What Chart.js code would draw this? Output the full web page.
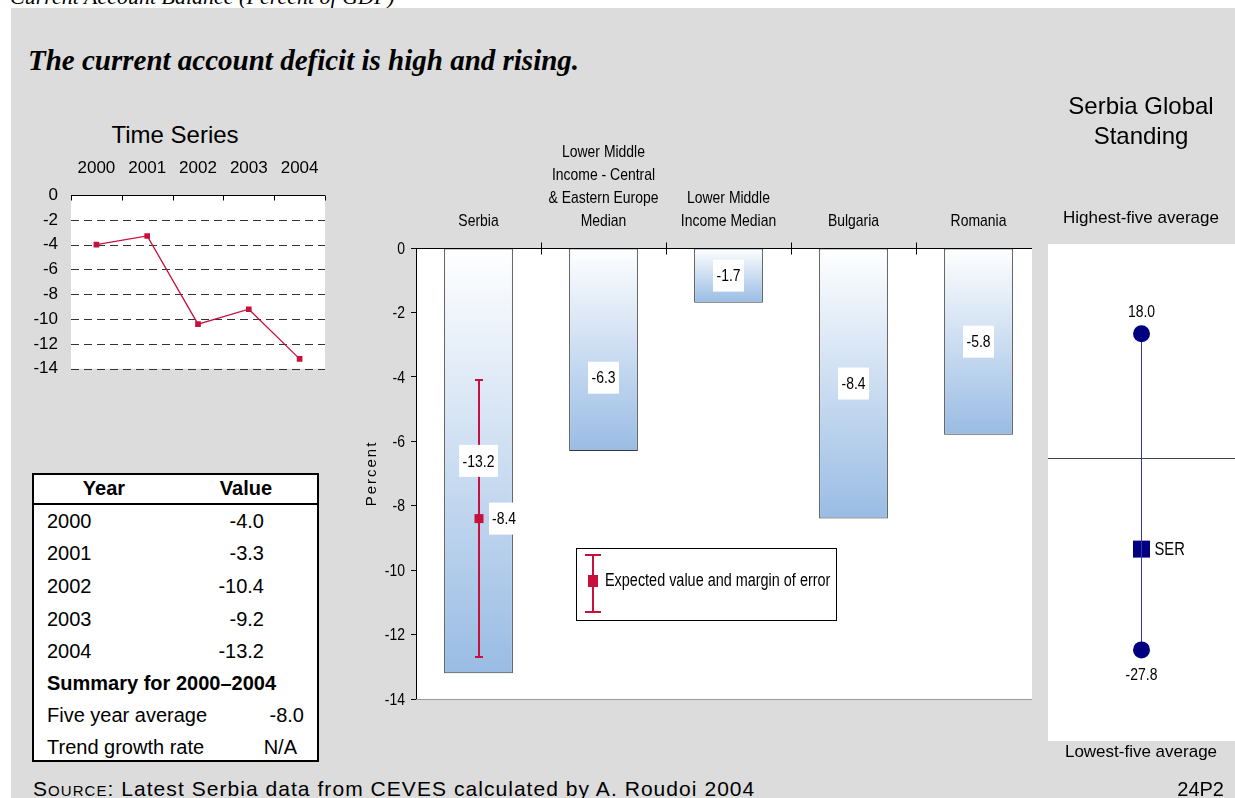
<!DOCTYPE html>
<html>
<head>
<meta charset="utf-8">
<title>Current Account Balance (Percent of GDP)</title>
<script src="https://cdn.jsdelivr.net/npm/chart.js@4.4.1/dist/chart.umd.min.js"></script>
<style>
  html, body { margin: 0; padding: 0; background: #fff; }
  body { width: 1235px; height: 798px; position: relative; overflow: hidden;
         font-family: "Liberation Sans", Arial, sans-serif; color: #000; }
  .abs { position: absolute; white-space: nowrap; }
  #pageTitle { left: 10px; top: -14px; font: italic 22px/22px "Liberation Serif", "Times New Roman", serif; }
  #panel { left: 11px; top: 8px; width: 1224px; height: 790px; background: #dcdcdc; }
  #headline { left: 28px; top: 46px; font: bold italic 29px/29px "Liberation Serif", "Times New Roman", serif; }
  #tsTitle { left: 75px; width: 200px; top: 123px; text-align: center; font-size: 24px; line-height: 24px; }
  #standTitle { left: 1046px; width: 190px; top: 91px; text-align: center; font-size: 24px; line-height: 30px; }
  .standNote { left: 1046px; width: 190px; text-align: center; font-size: 17px; line-height: 20px; }
  #dataTable { left: 32px; top: 473px; width: 283px; height: 285px; background: #fff; border: 2px solid #000; }
  #dataTable .hdrLine { position: absolute; left: 0; right: 0; top: 28px; height: 0; border-top: 2px solid #000; }
  #dataTable .cell { position: absolute; font-size: 20px; line-height: 30px; white-space: nowrap; }
  #source { left: 33px; top: 777px; font-size: 21px; line-height: 24px; letter-spacing: 1.05px; }
  #source .sc { font-variant: small-caps; }
  #pageId { right: 11px; top: 777px; font-size: 20px; line-height: 24px; }
  canvas { position: absolute; }
</style>
</head>
<body>
<div id="pageTitle" class="abs">Current Account Balance (Percent of GDP)</div>
<div id="panel" class="abs"></div>
<div id="headline" class="abs">The current account deficit is high and rising.</div>

<div id="tsTitle" class="abs">Time Series</div>
<canvas id="tsChart" width="340" height="242" style="left:0;top:150px"></canvas>

<div id="dataTable" class="abs"><div class="hdrLine"></div></div>

<canvas id="mainChart" width="720" height="590" style="left:340px;top:130px"></canvas>

<div id="standTitle" class="abs">Serbia Global<br>Standing</div>
<div class="abs standNote" style="top:208px">Highest-five average</div>
<canvas id="standChart" width="187" height="497" style="left:1048px;top:244px"></canvas>
<div class="abs standNote" style="top:742px">Lowest-five average</div>

<div id="source" class="abs"><span class="sc">Source</span>: Latest Serbia data from CEVES calculated by A. Roudoi 2004</div>
<div id="pageId" class="abs">24P2</div>

<script>
// ---- data ----
const years = ['2000', '2001', '2002', '2003', '2004'];
const balanceByYear = [-4.0, -3.3, -10.4, -9.2, -13.2];
const fiveYearAverage = -8.0;
const trendGrowthRate = 'N/A';

const comparisonLabels = [
  ['Serbia'],
  ['Lower Middle', 'Income - Central', '& Eastern Europe', 'Median'],
  ['Lower Middle', 'Income Median'],
  ['Bulgaria'],
  ['Romania']
];
const comparisonValues = [-13.2, -6.3, -1.7, -8.4, -5.8];

const serbiaExpected = -8.4;
const serbiaMarginLow = -12.7;
const serbiaMarginHigh = -4.1;

const highestFiveAverage = 18.0;
const lowestFiveAverage = -27.8;
const serbiaStanding = -13.2;
const serbiaCode = 'SER';

// ---- shared styling ----
const SANS = '"Liberation Sans", Arial, sans-serif';
const CRIMSON = '#c8103c';
const NAVY = '#000080';
const CONDENSE = 0.82;   // horizontal squeeze for the narrow chart lettering
Chart.defaults.font.family = SANS;
Chart.defaults.color = '#000';
Chart.defaults.animation = false;
Chart.defaults.plugins.legend.display = false;
Chart.defaults.plugins.tooltip.enabled = false;

// condensed text: Liberation Sans squeezed horizontally
function narrowText(ctx, text, x, y, align, size) {
  ctx.save();
  ctx.font = size + 'px ' + SANS;
  ctx.textAlign = align;
  ctx.textBaseline = 'middle';
  ctx.translate(x, y);
  ctx.scale(CONDENSE, 1);
  ctx.fillText(text, 0, 0);
  ctx.restore();
}
function narrowWidth(ctx, text, size) {
  ctx.save();
  ctx.font = size + 'px ' + SANS;
  const w = ctx.measureText(text).width * CONDENSE;
  ctx.restore();
  return w;
}

// ---- summary table ----
(function buildTable() {
  const box = document.getElementById('dataTable');
  const rowTop = (center) => center - 473 - 2 - 15;
  const add = (text, center, opts) => {
    const d = document.createElement('div');
    d.className = 'cell';
    d.textContent = text;
    d.style.top = rowTop(center) + 'px';
    if (opts.left !== undefined) d.style.left = (opts.left - 34) + 'px';
    if (opts.right !== undefined) d.style.right = (319 - opts.right) + 'px';
    if (opts.center !== undefined) { d.style.left = (opts.center - 34 - 60) + 'px'; d.style.width = '120px'; d.style.textAlign = 'center'; }
    if (opts.bold) d.style.fontWeight = 'bold';
    box.appendChild(d);
  };
  add('Year', 488, { center: 104, bold: true });
  add('Value', 488, { center: 246, bold: true });
  const centers = [521, 553, 586, 619, 651];
  years.forEach((y, i) => {
    add(y, centers[i], { left: 47 });
    add(balanceByYear[i].toFixed(1), centers[i], { right: 266 });
  });
  add('Summary for 2000\u20132004', 683, { left: 47, bold: true });
  add('Five year average', 715, { left: 47 });
  add(fiveYearAverage.toFixed(1), 715, { right: 306 });
  add('Trend growth rate', 747, { left: 47 });
  add(trendGrowthRate, 747, { right: 299 });
})();

// ---- time series line chart ----
const tsFrame = {
  id: 'tsFrame',
  beforeDraw(chart) {
    const { ctx, chartArea: a } = chart;
    ctx.save();
    ctx.fillStyle = '#fff';
    ctx.fillRect(a.left, a.top, a.right - a.left, a.bottom - a.top);
    ctx.restore();
  },
  beforeDatasetsDraw(chart) {
    const { ctx, chartArea: a, scales } = chart;
    const ys = scales.y, xs = scales.x;
    ctx.save();
    ctx.lineWidth = 1;
    ctx.strokeStyle = '#333';
    ctx.setLineDash([8, 5]);
    ys.ticks.forEach(t => {
      if (t.value === 0) return;
      const y = Math.round(ys.getPixelForValue(t.value)) + 0.5;
      ctx.beginPath(); ctx.moveTo(a.left, y); ctx.lineTo(a.right, y); ctx.stroke();
    });
    ctx.setLineDash([]);
    ctx.strokeStyle = '#000';
    const y0 = Math.round(ys.getPixelForValue(0)) + 0.5;
    ctx.beginPath(); ctx.moveTo(a.left, y0); ctx.lineTo(a.right, y0); ctx.stroke();
    const n = years.length;
    const step = xs.getPixelForValue(1) - xs.getPixelForValue(0);
    for (let i = 0; i <= n; i++) {
      const x = Math.round(xs.getPixelForValue(0) - step / 2 + i * step) + 0.5;
      ctx.beginPath(); ctx.moveTo(x, y0); ctx.lineTo(x, y0 + 5); ctx.stroke();
    }
    ctx.restore();
  }
};

new Chart(document.getElementById('tsChart'), {
  type: 'line',
  data: {
    labels: years,
    datasets: [{
      data: balanceByYear,
      borderColor: CRIMSON,
      borderWidth: 1.3,
      tension: 0,
      pointStyle: 'rect',
      pointRadius: 4,
      pointBackgroundColor: CRIMSON,
      pointBorderWidth: 0
    }]
  },
  options: {
    responsive: false,
    layout: { autoPadding: false, padding: { left: 0, right: 15, top: 0, bottom: 0 } },
    scales: {
      x: {
        position: 'top',
        offset: true,
        grid: { display: false, drawTicks: false },
        border: { display: false },
        ticks: { font: { size: 17 }, padding: 16, maxRotation: 0, autoSkip: false },
        afterFit(s) { s.height = 45; }
      },
      y: {
        min: -14, max: 0,
        grid: { display: false, drawTicks: false },
        border: { display: false },
        ticks: { stepSize: 2, font: { size: 17 }, padding: 13, autoSkip: false },
        afterFit(s) { s.width = 71; }
      }
    }
  },
  plugins: [tsFrame]
});

// ---- comparison bar chart ----
const mainDecor = {
  id: 'mainDecor',
  beforeDraw(chart, args, opts) {
    const { ctx, chartArea: a } = chart;
    ctx.save();
    ctx.fillStyle = '#fff';
    ctx.fillRect(a.left, a.top, a.right - a.left - opts.rightGap, a.bottom - a.top);
    ctx.restore();
  },
  afterDraw(chart, args, opts) {
    const { ctx, chartArea: a, scales } = chart;
    const xs = scales.x, ys = scales.y;
    const plotRight = a.right - opts.rightGap;
    ctx.save();
    ctx.fillStyle = '#000';

    // category names above the plot, bottom line resting on a common baseline
    xs.ticks.forEach((t, i) => {
      const lines = comparisonLabels[i];
      const x = xs.getPixelForTick(i);
      lines.forEach((ln, k) => {
        narrowText(ctx, ln, x, opts.labelBottom - (lines.length - 1 - k) * opts.labelLineHeight, 'center', 17);
      });
    });
    // value ticks on the left axis
    ys.ticks.forEach(t => {
      narrowText(ctx, String(t.value), a.left - 11, ys.getPixelForValue(t.value) + 1, 'right', 17);
    });

    // axis lines and category separators
    const y0 = Math.round(ys.getPixelForValue(0)) + 0.5;
    ctx.lineWidth = 1;
    ctx.strokeStyle = '#000';
    ctx.beginPath(); ctx.moveTo(a.left, y0); ctx.lineTo(plotRight, y0); ctx.stroke();
    const step = xs.getPixelForValue(1) - xs.getPixelForValue(0);
    for (let i = 1; i < comparisonValues.length; i++) {
      const x = Math.round(xs.getPixelForValue(i) - step / 2) + 0.5;
      ctx.beginPath(); ctx.moveTo(x, y0 - 6); ctx.lineTo(x, y0 + 6); ctx.stroke();
    }
    ctx.strokeStyle = '#9a9a9a';
    const yb = Math.round(a.bottom) + 0.5;
    ctx.beginPath(); ctx.moveTo(a.left, yb); ctx.lineTo(plotRight, yb); ctx.stroke();

    // Serbia expected value with margin of error
    const ex = Math.round(xs.getPixelForValue(0));
    const yHi = ys.getPixelForValue(serbiaMarginHigh);
    const yLo = ys.getPixelForValue(serbiaMarginLow);
    const yEx = ys.getPixelForValue(serbiaExpected);
    ctx.strokeStyle = CRIMSON;
    ctx.lineWidth = 2;
    ctx.beginPath();
    ctx.moveTo(ex, yHi); ctx.lineTo(ex, yLo);
    ctx.moveTo(ex - 4, yHi); ctx.lineTo(ex + 4, yHi);
    ctx.moveTo(ex - 4, yLo); ctx.lineTo(ex + 4, yLo);
    ctx.stroke();
    ctx.fillStyle = CRIMSON;
    ctx.fillRect(ex - 4.5, yEx - 4.5, 9, 9);

    const exText = serbiaExpected.toFixed(1);
    const exW = narrowWidth(ctx, exText, 17);
    ctx.fillStyle = '#fff';
    ctx.fillRect(ex + 10, yEx - 16, exW + 6, 32);
    ctx.fillStyle = '#000';
    narrowText(ctx, exText, ex + 13, yEx + 1, 'left', 17);

    // value labels in white boxes
    const meta = chart.getDatasetMeta(0);
    meta.data.forEach((bar, i) => {
      const txt = comparisonValues[i].toFixed(1);
      const w = narrowWidth(ctx, txt, 17) + 7;
      const cy = (bar.y + bar.base) / 2 + (opts.labelShift[i] || 0);
      ctx.fillStyle = '#fff';
      ctx.fillRect(bar.x - w / 2, cy - 16, w, 32);
      ctx.fillStyle = '#000';
      narrowText(ctx, txt, bar.x, cy + 1, 'center', 17);
    });

    // legend box
    const lx = a.left + 160, ly = a.top + 300, lw = 260, lh = 72;
    ctx.fillStyle = '#fff';
    ctx.fillRect(lx, ly, lw, lh);
    ctx.strokeStyle = '#000';
    ctx.lineWidth = 1;
    ctx.strokeRect(lx + 0.5, ly + 0.5, lw, lh);
    const ix = lx + 17, iTop = ly + 7, iBot = ly + 64, iMid = ly + 33;
    ctx.strokeStyle = CRIMSON;
    ctx.lineWidth = 2;
    ctx.beginPath();
    ctx.moveTo(ix, iTop); ctx.lineTo(ix, iBot);
    ctx.moveTo(ix - 8, iTop); ctx.lineTo(ix + 8, iTop);
    ctx.moveTo(ix - 8, iBot); ctx.lineTo(ix + 8, iBot);
    ctx.stroke();
    ctx.fillStyle = CRIMSON;
    ctx.fillRect(ix - 5, iMid - 6, 10, 12);
    ctx.fillStyle = '#000';
    narrowText(ctx, 'Expected value and margin of error', lx + 29, iMid, 'left', 17.6);

    // rotated axis title
    ctx.save();
    ctx.translate(a.left - 44, (a.top + a.bottom) / 2);
    ctx.rotate(-Math.PI / 2);
    ctx.font = '15px ' + SANS;
    if ('letterSpacing' in ctx) ctx.letterSpacing = '2px';
    ctx.textAlign = 'center';
    ctx.textBaseline = 'middle';
    ctx.fillText('Percent', 0, 0);
    ctx.restore();

    ctx.restore();
  }
};

new Chart(document.getElementById('mainChart'), {
  type: 'bar',
  data: {
    labels: comparisonLabels,
    datasets: [{
      data: comparisonValues,
      barPercentage: 0.55,
      categoryPercentage: 1,
      borderColor: '#3a3a3a',
      borderWidth: 1,
      borderSkipped: false,
      backgroundColor(c) {
        const chart = c.chart;
        if (!chart.chartArea || c.type !== 'data') return '#c6d8ef';
        const ys = chart.scales.y;
        const g = chart.ctx.createLinearGradient(0, ys.getPixelForValue(0), 0, ys.getPixelForValue(c.raw));
        g.addColorStop(0, '#ffffff');
        g.addColorStop(1, '#99bce4');
        return g;
      }
    }]
  },
  options: {
    responsive: false,
    layout: { autoPadding: false, padding: { left: 0, right: 19, top: 0, bottom: 21 } },
    scales: {
      x: {
        position: 'top',
        grid: { display: false, drawTicks: false },
        border: { display: false },
        ticks: { display: false },
        afterFit(s) { s.height = 118; }
      },
      y: {
        min: -14, max: 0,
        grid: { drawOnChartArea: false, drawTicks: true, tickLength: 5, color: '#000' },
        border: { display: true, color: '#000', width: 1 },
        ticks: { display: false, stepSize: 2 },
        afterFit(s) { s.width = 76; }
      }
    },
    plugins: { mainDecor: { rightGap: 9, labelShift: [0, 28, 0, 0, 0], labelBottom: 91, labelLineHeight: 23 } }
  },
  plugins: [mainDecor]
});

// ---- global standing chart ----
const standDecor = {
  id: 'standDecor',
  beforeDraw(chart) {
    const { ctx } = chart;
    ctx.save();
    ctx.fillStyle = '#fff';
    ctx.fillRect(0, 0, chart.width, chart.height);
    const y0 = Math.round(chart.scales.y.getPixelForValue(0)) + 0.5;
    ctx.strokeStyle = '#444';
    ctx.lineWidth = 1;
    ctx.beginPath(); ctx.moveTo(0, y0); ctx.lineTo(chart.width, y0); ctx.stroke();
    ctx.restore();
  },
  afterDatasetsDraw(chart) {
    const { ctx, scales } = chart;
    const x = scales.x.getPixelForValue(0);
    ctx.save();
    ctx.fillStyle = '#000';
    narrowText(ctx, highestFiveAverage.toFixed(1), x, scales.y.getPixelForValue(highestFiveAverage) - 21, 'center', 17);
    narrowText(ctx, lowestFiveAverage.toFixed(1), x, scales.y.getPixelForValue(lowestFiveAverage) + 25, 'center', 17);
    narrowText(ctx, serbiaCode, x + 13, scales.y.getPixelForValue(serbiaStanding) + 1, 'left', 18);
    ctx.restore();
  }
};

new Chart(document.getElementById('standChart'), {
  type: 'line',
  data: {
    datasets: [
      {
        data: [{ x: 0, y: highestFiveAverage }, { x: 0, y: lowestFiveAverage }],
        borderColor: '#3333b3',
        borderWidth: 1,
        pointStyle: 'circle',
        pointRadius: 8.5,
        pointBackgroundColor: NAVY,
        pointBorderColor: NAVY,
        pointBorderWidth: 0
      },
      {
        data: [{ x: 0, y: serbiaStanding }],
        showLine: false,
        pointStyle: 'rect',
        pointRadius: 12,
        pointBackgroundColor: NAVY,
        pointBorderWidth: 0
      }
    ]
  },
  options: {
    responsive: false,
    layout: { autoPadding: false, padding: 0 },
    scales: {
      x: { type: 'linear', min: -1, max: 1, display: false },
      y: { min: -41, max: 31, display: false }
    }
  },
  plugins: [standDecor]
});
</script>
</body>
</html>
